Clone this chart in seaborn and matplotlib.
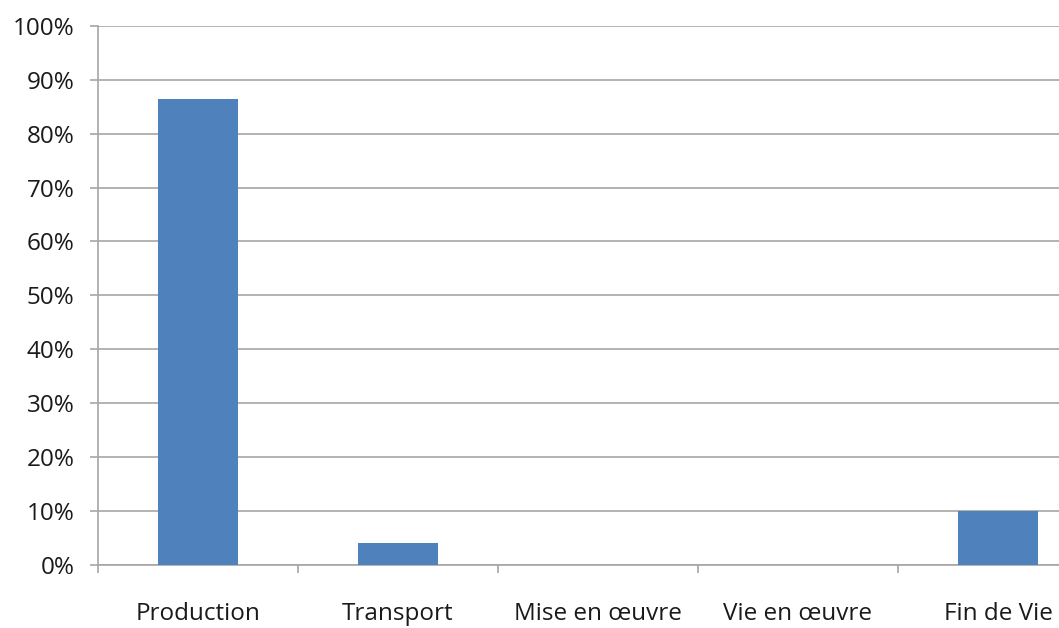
import matplotlib
matplotlib.use("Agg")
import matplotlib.pyplot as plt
from matplotlib.ticker import PercentFormatter, FixedLocator
import seaborn as sns
import pandas as pd

categories = ["Production", "Transport", "Mise en œuvre", "Vie en œuvre", "Fin de Vie"]
values = [86.4, 3.9, 0.0, 0.0, 10.0]
yticks = [0, 10, 20, 30, 40, 50, 60, 70, 80, 90, 100]

df = pd.DataFrame({"cat": categories, "val": values})

sns.set_theme(style="white")
plt.rcParams["font.family"] = ["Open Sans", "DejaVu Sans"]

fig = plt.figure(figsize=(10.59, 6.28), dpi=100)
W, H = 1059, 628
left, right, top, bottom = 98, 1098, 26, 564.5
ax = fig.add_axes([left / W, (H - bottom) / H, (right - left) / W, (bottom - top) / H])

sns.barplot(data=df, x="cat", y="val", color="#4F81BD", width=0.4, ax=ax,
            saturation=1, zorder=3, linewidth=0)

ax.set_ylim(0, 100)
ax.set_xlim(-0.5, len(categories) - 0.5)
ax.yaxis.set_major_locator(FixedLocator(yticks))
ax.yaxis.set_major_formatter(PercentFormatter(decimals=0))
ax.grid(axis="y", color="#A6A6A6", linewidth=1.2, zorder=0)
ax.set_axisbelow(True)
ax.set_xlabel("")
ax.set_ylabel("")

for s in ["top", "right"]:
    ax.spines[s].set_visible(False)
for s in ["left", "bottom"]:
    ax.spines[s].set_color("#A6A6A6")
    ax.spines[s].set_linewidth(1.2)

ax.tick_params(axis="y", which="major", left=True, length=6, width=1.2, color="#A6A6A6",
               labelsize=17.5, labelcolor="#1a1a1a", pad=11)
ax.tick_params(axis="x", which="major", bottom=False, length=0, labelsize=17.5,
               labelcolor="#1a1a1a", pad=27)
ax.set_xticks([i - 0.5 for i in range(len(categories) + 1)], minor=True)
ax.tick_params(axis="x", which="minor", bottom=True, length=6, width=1.2, color="#A6A6A6")

fig.savefig("out.png", dpi=100)
